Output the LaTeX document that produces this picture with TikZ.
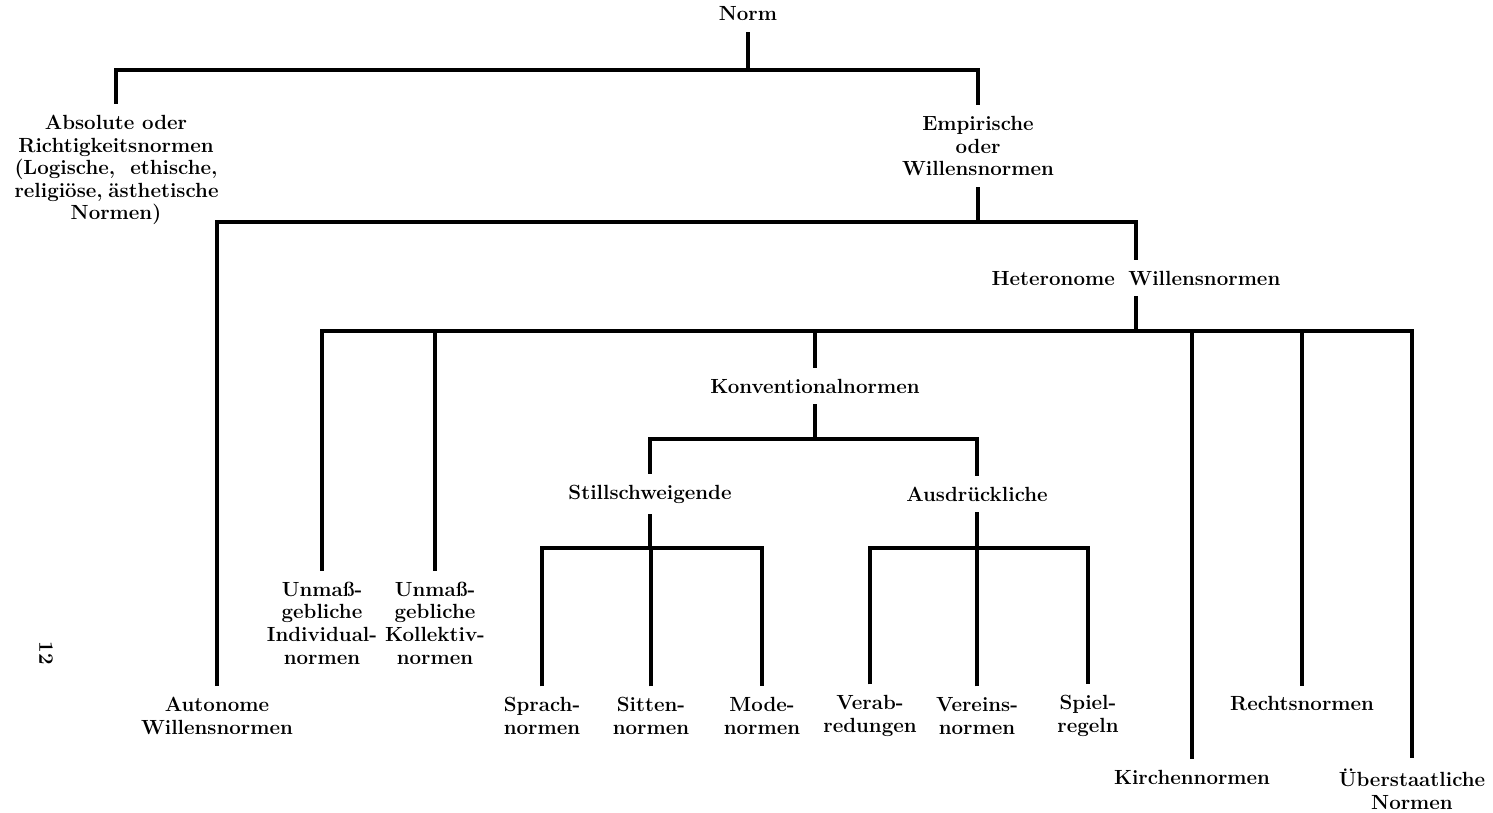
\documentclass[tikz,border=0pt]{standalone}
\usepackage{fontspec}

\tikzset{
  lbl/.style={font=\fontsize{20.5}{22.6}\selectfont\bfseries, align=center, inner xsep=2pt, inner ysep=11pt},
  branch/.style={line width=3.6pt},
}

\begin{document}
\begin{tikzpicture}[x=1pt,y=-1pt]
\useasboundingbox (0,0) rectangle (1493,813);

%Bar levels
\coordinate (b1) at (0,70);
\coordinate (b2) at (0,222);
\coordinate (b3) at (0,331);
\coordinate (b4) at (0,439);
\coordinate (b5) at (0,548);

% Text Node
\node [lbl] (norm) at (748,14) {Norm};
% Text Node
\node [lbl] (abs) at (116,170) {Absolute oder\\Richtigkeitsnormen\\\makebox[203pt][s]{(Logische, ethische,}\\\makebox[203pt][s]{religiöse, ästhetische}\\Normen)};
% Text Node
\node [lbl] (emp) at (978,146) {Empirische\\oder\\Willensnormen};
% Text Node
\node [lbl] (auto) at (217,716) {Autonome\\Willensnormen};
% Text Node
\node [lbl] (het) at (1136,278) {Heteronome\hspace{6pt} Willensnormen};
% Text Node
\node [lbl] (ind) at (322,623) {Unmaß-\\gebliche\\Individual-\\normen};
% Text Node
\node [lbl] (kol) at (435,623) {Unmaß-\\gebliche\\Kollektiv-\\normen};
% Text Node
\node [lbl] (konv) at (815,386) {Konventionalnormen};
% Text Node
\node [lbl] (still) at (650,494) {Stillschweigende};
% Text Node
\node [lbl] (ausd) at (977,494) {Ausdrückliche};
% Text Node
\node [lbl] (sprach) at (542,716) {Sprach-\\normen};
% Text Node
\node [lbl] (sitten) at (651,716) {Sitten-\\normen};
% Text Node
\node [lbl] (mode) at (762,716) {Mode-\\normen};
% Text Node
\node [lbl] (verab) at (870,716) {Verab-\\redungen};
% Text Node
\node [lbl] (vereins) at (977,716) {Vereins-\\normen};
% Text Node
\node [lbl] (spiel) at (1088,716) {Spiel-\\regeln};
% Text Node
\node [lbl] (recht) at (1302,704) {Rechtsnormen};
% Text Node
\node [lbl] (kirche) at (1192,777) {Kirchennormen};
% Text Node
\node [lbl] (ueber) at (1412,789) {Überstaatliche\\Normen};
% Text Node
\node [lbl, rotate=-90] (page) at (46,653) {12};

%Straight Lines
\draw [branch] (norm) -- (norm |- b1);
\draw [branch] (abs) |- (b1 -| emp) -- (emp);
%Straight Lines
\draw [branch] (emp) -- (emp |- b2);
\draw [branch] (auto) |- (b2 -| het) -- (het);
%Straight Lines
\draw [branch] (het) -- (het |- b3);
\draw [branch] (ind) |- (b3 -| ueber) -- (ueber);
\foreach \n in {kol,konv,kirche,recht}
  \draw [branch] (\n) -- (\n |- b3);
%Straight Lines
\draw [branch] (konv) -- (konv |- b4);
\draw [branch] (still) |- (b4 -| ausd) -- (ausd);
%Straight Lines
\draw [branch] (still) -- (still |- b5);
\draw [branch] (sprach) |- (b5 -| mode) -- (mode);
\draw [branch] (sitten) -- (sitten |- b5);
%Straight Lines
\draw [branch] (ausd) -- (ausd |- b5);
\draw [branch] (verab) |- (b5 -| spiel) -- (spiel);
\draw [branch] (vereins) -- (vereins |- b5);

\end{tikzpicture}
\end{document}
